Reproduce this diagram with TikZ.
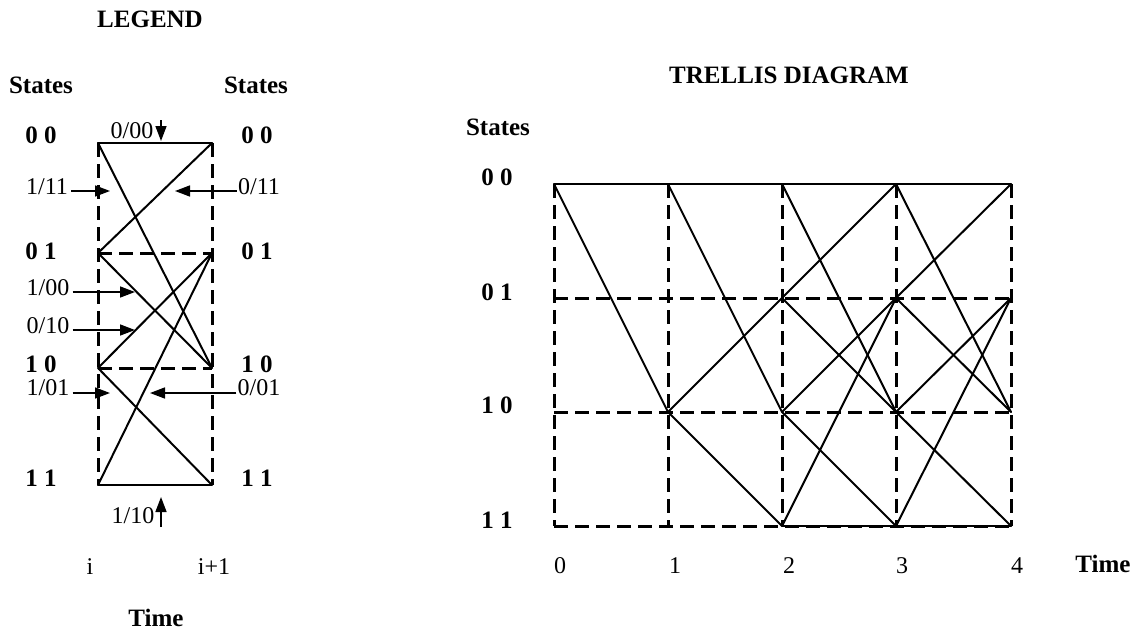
\documentclass[tikz,border=0pt]{standalone}
\usepackage{fontspec}
\setmainfont{Liberation Serif}
\usetikzlibrary{arrows.meta}
\begin{document}
\begin{tikzpicture}[x=1pt,y=-1pt,
  txt/.style={font=\fontsize{24}{27}\selectfont, inner sep=0pt},
  btxt/.style={font=\fontsize{25}{28}\selectfont\bfseries, inner sep=0pt},
  gridline/.style={line width=3pt, dash pattern=on 14pt off 7pt},
  edgeline/.style={line width=2pt, line cap=round, line join=round},
  lblarrow/.style={line width=1.6pt, -{Triangle[length=15pt,width=11pt]}}]
\useasboundingbox (0,0) rectangle (1141,634);

% ---------------- LEGEND ----------------
\node[btxt] (legend) at (150,19) {LEGEND};
\node[btxt] (stL) at (41,85) {States};
\node[btxt] (stR) at (256,85) {States};

\foreach \r/\y in {0/143,1/253,2/368,3/485}{
  \coordinate (L\r) at (98,\y);
  \coordinate (R\r) at (212,\y);
}
\node[btxt] (ls0) at (41,135) {0 0};
\node[btxt] (ls1) at (41,251) {0 1};
\node[btxt] (ls2) at (41,364) {1 0};
\node[btxt] (ls3) at (41,478) {1 1};
\node[btxt] (rs0) at (257,135) {0 0};
\node[btxt] (rs1) at (257,251) {0 1};
\node[btxt] (rs2) at (257,364) {1 0};
\node[btxt] (rs3) at (257,478) {1 1};

\draw[gridline] (L0) -- (L3);
\draw[gridline] (R0) -- (R3);
\draw[gridline] (L1) -- (R1);
\draw[gridline] (L2) -- (R2);

\draw[edgeline] (L0) -- (R0);
\draw[edgeline] (L0) -- (R2);
\draw[edgeline] (L1) -- (R0);
\draw[edgeline] (L1) -- (R2);
\draw[edgeline] (L2) -- (R1);
\draw[edgeline] (L2) -- (R3);
\draw[edgeline] (L3) -- (R1);
\draw[edgeline] (L3) -- (R3);

% branch labels
\node[txt] (b000) at (132,131) {0/00};
\coordinate (s000) at (161,120);
\coordinate (e000) at (161,141);
\draw[lblarrow] (s000) -- (e000);

\node[txt] (b111) at (47,187) {1/11};
\coordinate (e111) at (110,191);
\draw[lblarrow] ([xshift=3pt,yshift=-4pt]b111.east) -- (e111);

\node[txt] (b011) at (259,187) {0/11};
\coordinate (e011) at (175,191);
\draw[lblarrow] ([xshift=-1pt,yshift=-4pt]b011.west) -- (e011);

\node[txt] (b100) at (48,288) {1/00};
\coordinate (e100) at (135,292);
\draw[lblarrow] ([xshift=3pt,yshift=-4pt]b100.east) -- (e100);

\node[txt] (b010) at (48,326) {0/10};
\coordinate (e010) at (135,330);
\draw[lblarrow] ([xshift=3pt,yshift=-4pt]b010.east) -- (e010);

\node[txt] (b101) at (48,388) {1/01};
\coordinate (e101) at (110,393);
\draw[lblarrow] ([xshift=3pt,yshift=-5pt]b101.east) -- (e101);

\node[txt] (b001) at (259,388) {0/01};
\coordinate (e001) at (150,393);
\draw[lblarrow] ([xshift=-1pt,yshift=-5pt]b001.west) -- (e001);

\node[txt] (b110) at (133,516) {1/10};
\coordinate (s110) at (161,527);
\coordinate (e110) at (161,497);
\draw[lblarrow] (s110) -- (e110);

\node[txt] (ti) at (90,567) {i};
\node[txt] (ti1) at (214,567) {i+1};
\node[btxt] (ltime) at (156,618) {Time};

% ---------------- TRELLIS ----------------
\node[btxt, anchor=west] (trtitle) at (669,75) {TRELLIS DIAGRAM};
\node[btxt] (tstates) at (498,127) {States};

\foreach \c/\x in {0/554,1/668,2/782,3/896,4/1011}{
  \foreach \r/\y in {0/184,1/298,2/412,3/526}{
    \coordinate (T\c\r) at (\x,\y);
  }
}
\node[btxt] (ts0) at (497,177) {0 0};
\node[btxt] (ts1) at (497,292) {0 1};
\node[btxt] (ts2) at (497,405) {1 0};
\node[btxt] (ts3) at (497,520) {1 1};

\foreach \c/\x in {0/560,1/675,2/789,3/902,4/1017}{
  \node[txt] (tn\c) at (\x,566) {\c};
}
\node[btxt] (ttime) at (1103,564) {Time};

% grid
\foreach \c in {0,...,4}{ \draw[gridline] (T\c0) -- (T\c3); }
\foreach \r in {1,2,3}{ \draw[gridline] (T0\r) -- (T4\r); }

% edges
\draw[edgeline] (T00) -- (T10);
\draw[edgeline] (T00) -- (T12);
\draw[edgeline] (T10) -- (T20);
\draw[edgeline] (T10) -- (T22);
\draw[edgeline] (T12) -- (T21);
\draw[edgeline] (T12) -- (T23);
\foreach \c/\n in {2/3,3/4}{
  \draw[edgeline] (T\c0) -- (T\n0);
  \draw[edgeline] (T\c0) -- (T\n2);
  \draw[edgeline] (T\c1) -- (T\n0);
  \draw[edgeline] (T\c1) -- (T\n2);
  \draw[edgeline] (T\c2) -- (T\n1);
  \draw[edgeline] (T\c2) -- (T\n3);
  \draw[edgeline] (T\c3) -- (T\n1);
  \draw[edgeline] (T\c3) -- (T\n3);
}
\end{tikzpicture}
\end{document}
